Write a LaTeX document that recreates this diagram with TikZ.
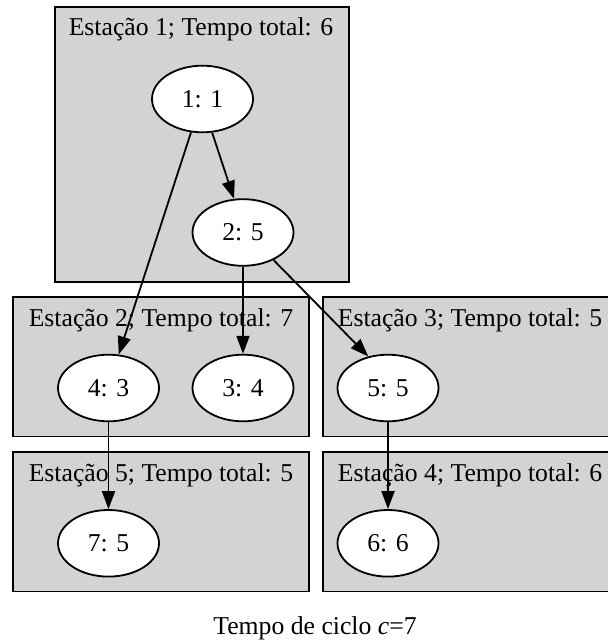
\documentclass[tikz,border=0pt]{standalone}
\usepackage{fontspec}
\setmainfont{Liberation Serif}
\usetikzlibrary{arrows.meta,shapes.geometric}
\definecolor{lgrey}{HTML}{D3D3D3}
\begin{document}
\begin{tikzpicture}[x=0.5pt,y=-0.5pt,
  cluster/.style={draw=black, fill=lgrey, line width=0.9pt},
  task/.style={ellipse, draw=black, fill=white, line width=0.9pt,
    minimum width=50.5pt, minimum height=33.3pt, inner sep=0pt,
    font=\fontsize{12.85}{15}\selectfont},
  ctitle/.style={anchor=base, inner sep=0pt, font=\fontsize{12.85}{15}\selectfont},
  edge/.style={line width=0.9pt, -{Triangle[length=9pt,width=6.5pt]}}
]
\useasboundingbox (0,0) rectangle (608,641);
\clip (0,0) rectangle (608,641);
% clusters
\draw[cluster] (55,7) rectangle (349,282);
\draw[cluster] (13,297) rectangle (309,436.5);
\draw[cluster] (323,297) rectangle (620,436.5);
\draw[cluster] (13,452) rectangle (309,591.5);
\draw[cluster] (323,452) rectangle (620,591.5);
% titles
\node[ctitle] (t1) at (201,36) {Estação 1; Tempo total: 6};
\node[ctitle] (t2) at (161,326) {Estação 2; Tempo total: 7};
\node[ctitle] (t3) at (470,326) {Estação 3; Tempo total: 5};
\node[ctitle] (t5) at (161,481) {Estação 5; Tempo total: 5};
\node[ctitle] (t4) at (470,481) {Estação 4; Tempo total: 6};
% tasks
\node[task] (n1) at (202.5,99) {1: 1};
\node[task] (n2) at (243,232.5) {2: 5};
\node[task] (n4) at (108.5,388) {4: 3};
\node[task] (n3) at (243,388) {3: 4};
\node[task] (n5) at (388,388) {5: 5};
\node[task] (n7) at (108.5,543.3) {7: 5};
\node[task] (n6) at (388,543.3) {6: 6};
% edges
\draw[edge] (n1.-74) -- (n2.105);
\draw[edge] (n1.-109.5) -- (n4.73.5);
\draw[edge] (n2.south) -- (n3.north);
\draw[edge] (n2.-42.3) -- (n5.122.7);
\draw[edge] (n4.south) -- (n7.north);
\draw[edge] (n5.south) -- (n6.north);
% caption
\node[ctitle] (cap) at (315,634) {Tempo de ciclo \textit{c}=7};
\end{tikzpicture}
\end{document}
